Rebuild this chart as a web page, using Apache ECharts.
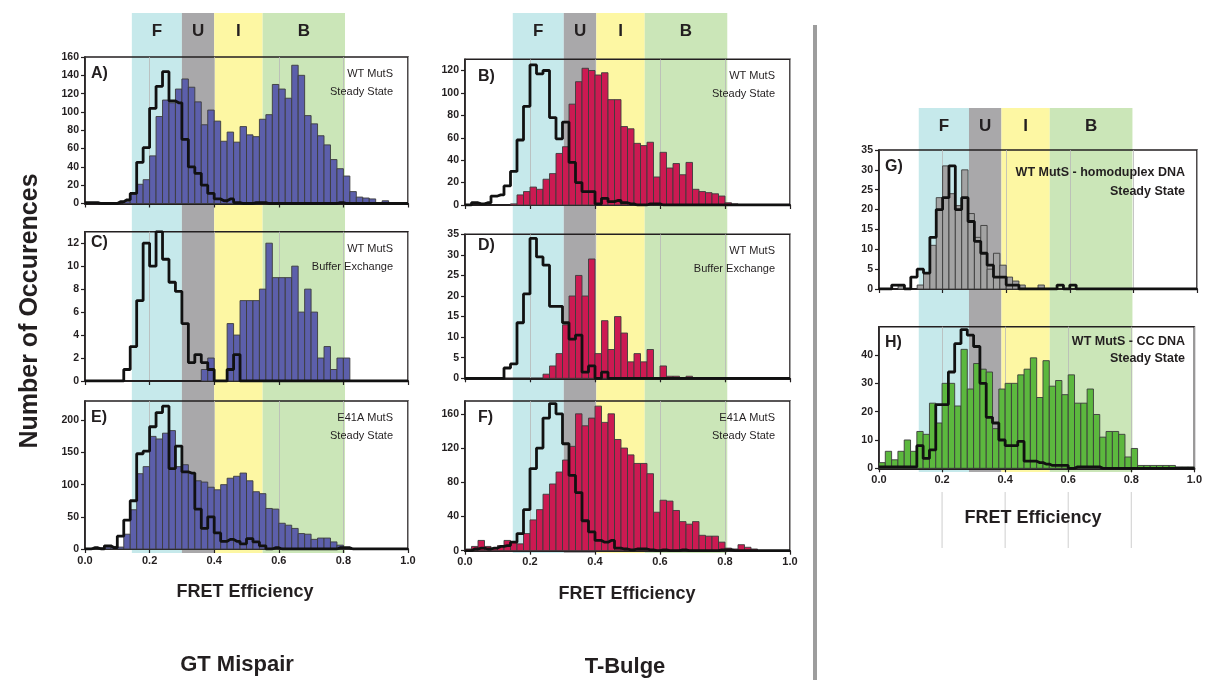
<!DOCTYPE html>
<html><head><meta charset="utf-8">
<script src="https://cdn.jsdelivr.net/npm/echarts@6/dist/echarts.min.js"></script>
<style>html,body{margin:0;padding:0;background:#fff}#c{width:1205px;height:680px}</style>
</head><body><div id="c"></div><script>
// ---------------- DATA (50 bins of width 0.02 from 0 to 1) ----------------
const BIN = 0.02;
const barsA = [0,0,0,0,0,0,2,10,21,26, 52,95,113,110,125,136,127,111,86,102, 90,68,78,67,84,75,73,92,97,130, 125,115,151,140,96,87,74,64,48,38, 30,13,7,6,5,1,3,1,0,0];
const stepA = [1,1,0,0,0,2,4,11,45,61, 104,128,144,112,110,70,40,33,20,11, 5,3,5,1,0,0,1,1,0,0, 0,0,0,0,0,0,0,0,0,1, 0,0,0,0,0,0,0,0,0,0];
const barsB = [0,0,0,0,0,0,0,1,9,12, 16,14,23,28,46,52,90,110,122,120, 116,118,94,94,70,68,55,53,56,25, 47,33,37,27,38,14,12,11,10,8, 2,1,0,0,0,0,0,0,0,0];
const stepB = [0,2,1,2,8,9,17,30,58,88, 125,117,120,78,59,74,38,20,12,12, 1,6,3,4,2,1,0,0,1,1, 0,0,0,0,0,0,0,0,0,0, 0,0,0,0,0,0,0,0,0,0];
const barsC = [0,0,0,0,0,0,0,0,0,0, 0,0,0,0,0,0,0,0,1,2, 0,0,5,4,7,7,7,8,12,9, 9,9,10,6,8,6,2,3,1,2, 2,0,0,0,0,0,0,0,0,0];
const stepC = [0,0,0,0,0,0,1,3,7,12, 10,13,10.6,8.6,7.8,5,1.6,2.3,1.6,1, 0,0,1,2.3,0,0,0,0,0,0, 0,0,0,0,0,0,0,0,0,0, 0,0,0,0,0,0,0,0,0,0];
const barsD = [0,0,0,0,0,0,0,0,0,0, 0,0,1,3,6,13,20,25,20,29, 6,14,7,15,11,4,6,4,7,0, 3,0.5,0.5,0,0.5,0,0,0,0,0, 0,0,0,0,0,0,0,0,0,0];
const stepD = [0,0,0,0,0,0,2.5,3.5,13.5,20.5, 34,29.5,27.5,17.5,17.5,13.5,9.5,10.5,1.5,3, 0,1.5,0,0,0,0,0,0,0,0, 0,0,0,0,0,0,0,0,0,0, 0,0,0,0,0,0,0,0,0,0];
const barsE = [0,1,2,3,4,3,23,61,117,128, 175,171,180,184,128,131,118,106,104,96, 92,100,110,113,118,106,89,86,63,62, 40,37,32,24,23,15,17,17,11,6, 1,0,0,0,0,0,0,0,0,0];
const stepE = [0,2,0,5,2,20,45,75,148,152, 190,212,222,125,160,120,118,62,32,50, 25,12,15,12,8,16,11,5,0,2, 0,0,0,0,0,0,0,0,0,2, 2,0,0,0,0,0,0,0,0,0];
const barsF = [2,5,12,5,3,6,12,10,8,20, 36,48,66,78,92,106,122,160,146,155, 169,150,160,130,120,112,102,102,90,45, 59,58,47,34,31,34,18,17,17,10, 3,2,7,4,2,0,0,0,0,0];
const stepF = [0,2,3,2,3,5,6,10,20,48, 96,120,155,172,160,125,88,68,35,22, 12,10,12,3,2,1,2,2,1,0, 1,0,0,1,0,0,0,0,0,1, 1,0,0,0,0,0,0,0,0,0];
const barsG = [0,0,0,1,0,0,1,4,11,23, 31,24,21,30,19,13,16,5,9,6, 3,2,1,0,0,1,0,0,0,0, 0,0,0,0,0,0,0,0,0,0, 0,0,0,0,0,0,0,0,0,0];
const stepG = [0,0,1,1,0,3,5,4,13,20, 23,31,20,23,17,12,9,6,3,3, 1,1,0,0,0,0,0,0,1,0, 1,0,0,0,0,0,0,0,0,0, 0,0,0,0,0,0,0,0,0,0];
const barsH = [2,6,3,6,10,6,13,12,23,16, 30,30,22,42,28,37,35,34,14,28, 30,30,33,35,39,25,38,29,31,26, 33,23,23,28,19,11,13,13,12,4, 7,1,1,1,1,1,1,0.5,0.5,0.5];
const stepH = [0.5,0.5,0.5,0.5,0.5,0.5,8,3.5,6.5,22.5, 22.5,34,44,49,47,43,30,18,16,10, 8,8,9.5,2.5,2.5,2,1.5,1,1,1, 0,0.5,0.5,0.5,0.5,0,0,0,0,0, 0,0,0,0,0,0,0,0,0,0];

const bandNames = ['F', 'U', 'I', 'B'];
const bandEdgesGT = [0.145, 0.30, 0.40, 0.55, 0.805];
const bandEdgesTB = [0.147, 0.304, 0.404, 0.553, 0.807];
const bandEdgesCtl = [0.125, 0.283, 0.385, 0.537, 0.797];
const panelLetters = ['A)', 'B)', 'C)', 'D)', 'E)', 'F)', 'G)', 'H)'];
const panelNotes = [
  ['WT MutS', 'Steady State'], ['WT MutS', 'Steady State'],
  ['WT MutS', 'Buffer Exchange'], ['WT MutS', 'Buffer Exchange'],
  ['E41A MutS', 'Steady State'], ['E41A MutS', 'Steady State'],
  ['WT MutS - homoduplex DNA', 'Steady State'], ['WT MutS - CC DNA', 'Steady State']
];
const yMax = [160, 130, 13, 35, 230, 175, 35, 50];
const yStep = [20, 20, 2, 5, 50, 40, 5, 10];
const colTitles = ['GT Mispair', 'T-Bulge'];
const xTitle = 'FRET Efficiency';
const yTitle = 'Number of Occurences';

// ---------------- LAYOUT / STYLE ----------------
const FONT = '"Liberation Sans", Arial, sans-serif';
const INK = '#231f20';
const COLS = [{left: 85, width: 323}, {left: 465, width: 325}, {left: 879, width: 318}];
const PANELS = [
  {col: 0, top: 57, h: 146.5, xl: false, hideMax: false, color: '#5c5fab'},
  {col: 1, top: 59.3, h: 145.7, xl: false, hideMax: true, color: '#cc1a52'},
  {col: 0, top: 231.7, h: 149.3, xl: false, hideMax: true, color: '#5c5fab'},
  {col: 1, top: 234.3, h: 144, xl: false, hideMax: false, color: '#cc1a52'},
  {col: 0, top: 401, h: 148, xl: true, hideMax: true, color: '#5c5fab'},
  {col: 1, top: 401, h: 149.7, xl: true, hideMax: true, color: '#cc1a52'},
  {col: 2, top: 150, h: 139, xl: false, hideMax: false, color: '#a3a3a3'},
  {col: 2, top: 326.7, h: 141.6, xl: true, hideMax: true, color: '#5cb83e'}
];
const BAND_COLORS = ['#c6e9eb', '#a9a8aa', '#fdf7a3', '#cbe6b8'];
const allBars = [barsA, barsB, barsC, barsD, barsE, barsF, barsG, barsH];
const allSteps = [stepA, stepB, stepC, stepD, stepE, stepF, stepG, stepH];

const grids = [], xAxes = [], yAxes = [], series = [];
PANELS.forEach((p, i) => {
  const c = COLS[p.col];
  grids.push({left: c.left, width: c.width, top: p.top, height: p.h, show: true,
    borderColor: INK, borderWidth: 1.6, backgroundColor: 'transparent', containLabel: false});
  xAxes.push({type: 'value', gridIndex: i, min: 0, max: 1, interval: 0.2,
    axisLine: {show: true, onZero: false, lineStyle: {color: INK, width: 2.2}},
    axisTick: {show: true, length: 4, lineStyle: {color: INK, width: 1.2}},
    axisLabel: {show: p.xl, margin: 6, color: INK, fontWeight: 'bold', fontSize: 11, fontFamily: FONT,
      formatter: v => v.toFixed(1)},
    splitLine: {show: true, lineStyle: {color: '#b8b8b8', width: 0.8}}});
  yAxes.push({type: 'value', gridIndex: i, min: 0, max: yMax[i], interval: yStep[i],
    axisLine: {show: true, lineStyle: {color: INK, width: 1.6}},
    axisTick: {show: true, length: 4, lineStyle: {color: INK, width: 1.2}},
    axisLabel: {margin: 6, color: INK, fontWeight: 'bold', fontSize: 10.5, fontFamily: FONT, showMaxLabel: !p.hideMax},
    splitLine: {show: false}});
  const vals = allBars[i];
  series.push({type: 'custom', xAxisIndex: i, yAxisIndex: i, z: 2,
    data: vals.map((v, k) => [k * BIN, (k + 1) * BIN, v]),
    encode: {x: [0, 1], y: 2},
    renderItem: (params, api) => {
      const v = api.value(2);
      if (!v) return null;
      const p0 = api.coord([api.value(0), v]);
      const p1 = api.coord([api.value(1), 0]);
      return {type: 'rect', shape: {x: p0[0], y: p0[1], width: p1[0] - p0[0], height: p1[1] - p0[1]},
        style: {fill: p.color, stroke: '#3c3c3c', lineWidth: 0.9}};
    }});
  const st = allSteps[i];
  const pts = [[0, st[0]]].concat(st.map((v, k) => [(k + 0.5) * BIN, v])).concat([[1, st[st.length - 1]]]);
  series.push({type: 'line', xAxisIndex: i, yAxisIndex: i, z: 3, step: 'middle', symbol: 'none',
    data: pts, lineStyle: {color: '#111', width: 2.8}, silent: true, animation: false});
});

const chart = echarts.init(document.getElementById('c'), null, {renderer: 'canvas'});
chart.setOption({animation: false, backgroundColor: '#fff', grid: grids, xAxis: xAxes, yAxis: yAxes, series: series});

// ---------------- decorations positioned through the axes ----------------
const g = [];
const colBandSpec = [
  {axis: 0, edges: bandEdgesGT, top: 13, bottom: 553, labelY: 31},
  {axis: 1, edges: bandEdgesTB, top: 13, bottom: 553, labelY: 31},
  {axis: 6, edges: bandEdgesCtl, top: 108, bottom: 472, labelY: 126}
];
colBandSpec.forEach(s => {
  const px = s.edges.map(e => chart.convertToPixel({xAxisIndex: s.axis}, e));
  for (let b = 0; b < 4; b++) {
    g.push({type: 'rect', z: -10, shape: {x: px[b], y: s.top, width: px[b + 1] - px[b], height: s.bottom - s.top},
      style: {fill: BAND_COLORS[b]}, silent: true});
    g.push({type: 'text', z: 5, x: (px[b] + px[b + 1]) / 2, y: s.labelY,
      style: {text: bandNames[b], fill: INK, fontSize: 17, fontWeight: 'bold', fontFamily: FONT,
        textAlign: 'center', textVerticalAlign: 'middle'}});
  }
});
// faint lines under the right-hand column axis
[0.2, 0.4, 0.6, 0.8].forEach(v => {
  const x = chart.convertToPixel({xAxisIndex: 7}, v);
  g.push({type: 'line', z: -5, shape: {x1: x, y1: 492, x2: x, y2: 548}, style: {stroke: '#c8c8c8', lineWidth: 0.9}});
});
// panel letters and notes
PANELS.forEach((p, i) => {
  const c = COLS[p.col];
  const right = c.left + c.width;
  const isRight = p.col === 2;
  g.push({type: 'text', z: 6, x: c.left + (p.col === 1 ? 13 : 6), y: p.top + (i === 2 || i === 3 ? 11 : (i === 7 ? 16 : 17)),
    style: {text: panelLetters[i], fill: INK, fontSize: 16, fontWeight: 'bold', fontFamily: FONT,
      textAlign: 'left', textVerticalAlign: 'middle'}});
  const n = panelNotes[i];
  const fs = isRight ? 12.5 : 11;
  const y1 = isRight ? p.top + (i === 6 ? 23 : 15) : p.top + 17;
  const gap = isRight ? (i === 6 ? 19 : 17) : 18;
  [n[0], n[1]].forEach((t, k) => {
    g.push({type: 'text', z: 6, x: right - (isRight ? 12 : 15), y: y1 + k * gap,
      style: {text: t, fill: INK, fontSize: fs, fontWeight: isRight ? 'bold' : 'normal', fontFamily: FONT,
        textAlign: 'right', textVerticalAlign: 'middle'}});
  });
});
// titles
[[245, 592], [627, 594], [1033, 518]].forEach(([x, y]) => {
  g.push({type: 'text', x: x, y: y, style: {text: xTitle, fill: INK, fontSize: 18, fontWeight: 'bold', fontFamily: FONT,
    textAlign: 'center', textVerticalAlign: 'middle'}});
});
g.push({type: 'text', x: 237, y: 665, style: {text: colTitles[0], fill: INK, fontSize: 22, fontWeight: 'bold', fontFamily: FONT, textAlign: 'center', textVerticalAlign: 'middle'}});
g.push({type: 'text', x: 625, y: 667, style: {text: colTitles[1], fill: INK, fontSize: 22, fontWeight: 'bold', fontFamily: FONT, textAlign: 'center', textVerticalAlign: 'middle'}});
g.push({type: 'text', x: 30, y: 311, rotation: Math.PI / 2,
  style: {text: yTitle, fill: INK, fontSize: 25, fontWeight: 'bold', fontFamily: FONT, textAlign: 'center', textVerticalAlign: 'middle'}});
// divider
g.push({type: 'line', shape: {x1: 815, y1: 25, x2: 815, y2: 680}, style: {stroke: '#9d9d9d', lineWidth: 4}});

chart.setOption({graphic: g});
</script></body></html>
